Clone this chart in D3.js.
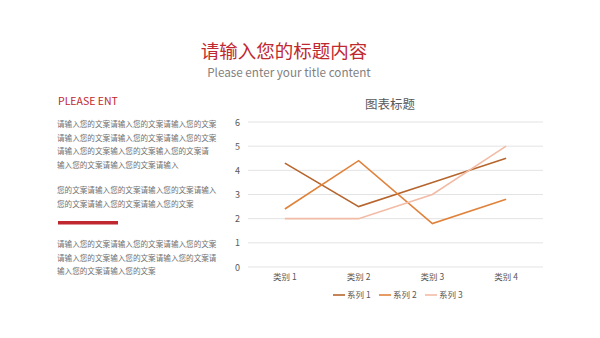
<!DOCTYPE html>
<html>
<head>
<meta charset="utf-8">
<script src="https://cdn.jsdelivr.net/npm/d3@7"></script>
<style>
  html, body { margin: 0; padding: 0; background: #fff; }
  svg { display: block; font-family: "Noto Sans CJK SC", "Noto Sans", sans-serif; }
</style>
</head>
<body>
<svg id="page" width="600" height="338"></svg>
<script>
const categories = ['类别 1', '类别 2', '类别 3', '类别 4'];
const seriesNames = ['系列 1', '系列 2', '系列 3'];
const series1 = [4.3, 2.5, 3.5, 4.5];
const series2 = [2.4, 4.4, 1.8, 2.8];
const series3 = [2, 2, 3, 5];
const yTicks = [0, 1, 2, 3, 4, 5, 6];

const para1 = ['请输入您的文案请输入您的文案请输入您的文案', '请输入您的文案请输入您的文案请输入您的文案',
  '请输入您的文案输入您的文案输入您的文案请', '输入您的文案请输入您的文案请输入'];
const para2 = ['您的文案请输入您的文案请输入您的文案请输入', '您的文案请输入您的文案请输入您的文案'];
const para3 = ['请输入您的文案请输入您的文案请输入您的文案', '请输入您的文案输入您的文案请输入您的文案请',
  '输入您的文案请输入您的文案'];

const RED = '#c0282f';
const colors = ['#b5652d', '#e0823a', '#f2bba5'];

const svg = d3.select('#page');

// titles
svg.append('text').attr('x', 284).attr('y', 58).attr('text-anchor', 'middle')
  .attr('font-size', 18.5).attr('fill', RED).text('请输入您的标题内容');
svg.append('text').attr('x', 289).attr('y', 77).attr('text-anchor', 'middle')
  .attr('font-size', 11.7).attr('fill', '#7f7f7f').text('Please enter your title content');

// left text block
svg.append('text').attr('x', 58).attr('y', 105).attr('font-size', 10.5)
  .attr('fill', RED).text('PLEASE ENT');

function paragraph(lines, y0) {
  svg.append('g').selectAll('text').data(lines).join('text')
    .attr('x', 57).attr('y', (d, i) => y0 + i * 13.5)
    .attr('font-size', 7.6).attr('fill', '#707070').text(d => d);
}
paragraph(para1, 127);
paragraph(para2, 193);
paragraph(para3, 247);

svg.append('rect').attr('x', 58).attr('y', 221).attr('width', 60).attr('height', 3.5).attr('fill', RED);

// chart
const x = d3.scaleBand().domain(categories).range([248, 543]);
const y = d3.scaleLinear().domain([0, 6]).range([267, 122]);

svg.append('text').attr('x', 390).attr('y', 109).attr('text-anchor', 'middle')
  .attr('font-size', 12.5).attr('fill', '#595959').text('图表标题');

svg.append('g').selectAll('line').data(yTicks).join('line')
  .attr('x1', 248).attr('x2', 543)
  .attr('y1', d => y(d)).attr('y2', d => y(d))
  .attr('stroke', '#e3e3e3').attr('stroke-width', 1);

svg.append('g').selectAll('text').data(yTicks).join('text')
  .attr('x', 240).attr('y', d => y(d) + 3.5).attr('text-anchor', 'end')
  .attr('font-size', 9).attr('fill', '#595959').text(d => d);

svg.append('g').selectAll('text').data(categories).join('text')
  .attr('x', d => x(d) + x.bandwidth() / 2).attr('y', 280).attr('text-anchor', 'middle')
  .attr('font-size', 8.5).attr('fill', '#595959').text(d => d);

const line = d3.line()
  .x((d, i) => x(categories[i]) + x.bandwidth() / 2)
  .y(d => y(d));

svg.append('g').selectAll('path').data([series1, series2, series3]).join('path')
  .attr('d', d => line(d)).attr('fill', 'none')
  .attr('stroke', (d, i) => colors[i]).attr('stroke-width', 1.6);

// legend
const legendX = [333, 379, 425];
const lg = svg.append('g').selectAll('g').data(seriesNames).join('g')
  .attr('transform', (d, i) => `translate(${legendX[i]},295)`);
lg.append('line').attr('x1', 0).attr('x2', 12).attr('y1', 0).attr('y2', 0)
  .attr('stroke', (d, i) => colors[i]).attr('stroke-width', 1.6);
lg.append('text').attr('x', 14).attr('y', 3.2).attr('font-size', 8.5)
  .attr('fill', '#595959').text(d => d);
</script>
</body>
</html>
